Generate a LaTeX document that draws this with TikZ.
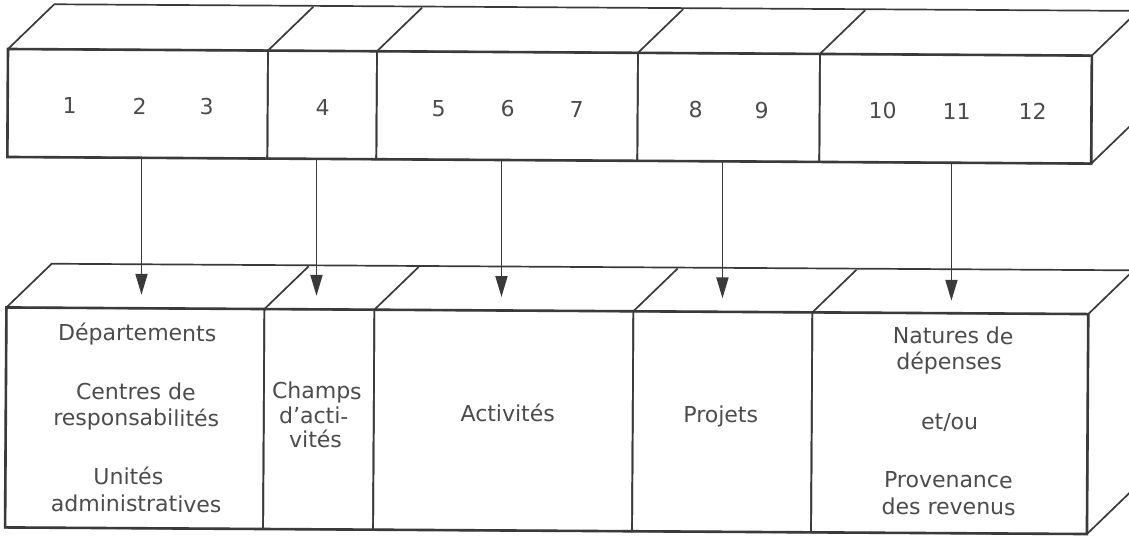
\documentclass[tikz,border=0pt]{standalone}
\usepackage{fontspec}
\setmainfont{DejaVu Sans}
\usetikzlibrary{arrows.meta,calc}
\definecolor{linec}{HTML}{3A3A3A}
\definecolor{txtc}{HTML}{4C4C4C}
\begin{document}
\begin{tikzpicture}[x=1pt,y=-1pt,
  outer/.style={draw=linec,line width=2.6pt,line join=miter},
  thin/.style={draw=linec,line width=1.7pt},
  cell/.style={thin,rectangle,inner sep=0pt,outer sep=0pt,anchor=north west,minimum height=#1},
  lbl/.style={text=txtc,font=\fontsize{22}{26}\selectfont,anchor=base,inner sep=0pt},
  conn/.style={draw=linec,line width=1.9pt,-{Triangle[length=21pt,width=12pt]}}]
\useasboundingbox (0,0) rectangle (1129,537);
\clip (0,0) rectangle (1129,537);
\fill[white] (0,0) rectangle (1129,537);
\begin{scope}[rotate around={-0.35:(8,49)},transform shape]
% ---------- top block ----------
\node[cell=108pt,minimum width=260pt] (t1) at (8,49) {};
\node[cell=108pt,minimum width=109pt] (t2) at (268,49) {};
\node[cell=108pt,minimum width=261pt] (t3) at (377,49) {};
\node[cell=108pt,minimum width=182pt] (t4) at (638,49) {};
\node[cell=108pt,minimum width=272pt] (t5) at (820,49) {};
\draw[thin] (t1.north west) -- ++(46,-45) -- ($(t5.north east)+(46,-45)$) -- ++(0,108) -- (t5.south east);
\draw[thin] (t5.north east) -- ++(46,-45);
\foreach \c in {t2,t3,t4,t5} \draw[thin] (\c.north west) -- ++(45,-44);
\draw[outer] (t1.north west) rectangle (t5.south east);
% numbers
\node[lbl] (n1) at (70,113.6) {1};
\node[lbl] (n2) at (140,113.6) {2};
\node[lbl] (n3) at (207,113.6) {3};
\node[lbl] (n4) at (323,113.6) {4};
\node[lbl] (n5) at (439,113.6) {5};
\node[lbl] (n6) at (508,113.6) {6};
\node[lbl] (n7) at (577,113.6) {7};
\node[lbl] (n8) at (696,113.6) {8};
\node[lbl] (n9) at (762,113.6) {9};
\node[lbl] (n10) at (883,113.6) {10};
\node[lbl] (n11) at (957,113.6) {11};
\node[lbl] (n12) at (1033,113.6) {12};
% ---------- bottom block ----------
\node[cell=220pt,minimum width=258pt] (b1) at (8,307.5) {};
\node[cell=220pt,minimum width=110pt] (b2) at (266,307.5) {};
\node[cell=220pt,minimum width=259pt] (b3) at (376,307.5) {};
\node[cell=220pt,minimum width=179pt] (b4) at (635,307.5) {};
\node[cell=220pt,minimum width=276pt] (b5) at (814,307.5) {};
\draw[thin] (b1.north west) -- ++(45,-44) -- ($(b5.north east)+(45,-44)$) -- ++(0,220) -- (b5.south east);
\draw[thin] (b5.north east) -- ++(45,-44);
\foreach \c in {b2,b3,b4,b5} \draw[thin] (\c.north west) -- ++(44,-43);
\draw[outer] (b1.north west) rectangle (b5.south east);
% labels
\node[lbl] (l1) at (139,340) {Départements};
\node[lbl] (l2) at (138,399) {Centres de};
\node[lbl] (l3) at (138.5,425) {responsabilités};
\node[lbl] (l4) at (131,484) {Unités};
\node[lbl] (l5) at (139,511) {administratives};
\node[lbl] (l6) at (319,397) {Champs};
\node[lbl] (l7) at (316,422) {d’acti-};
\node[lbl] (l8) at (318,446) {vités};
\node[lbl] (l9) at (510,418.6) {Activités};
\node[lbl] (l10) at (723,418.3) {Projets};
\node[lbl] (l11) at (955,338) {Natures de};
\node[lbl] (l12) at (951,364) {dépenses};
\node[lbl] (l13) at (952,424) {et/ou};
\node[lbl] (l14) at (951,482) {Provenance};
\node[lbl] (l15) at (951.5,509) {des revenus};
% arrow end points
\coordinate (e1) at (143,294);
\coordinate (e2) at (318,294);
\coordinate (e3) at (503,294);
\coordinate (e4) at (724,294);
\coordinate (e5) at (953,295);
\end{scope}
\draw[conn] (t1.south -| e1) -- (e1);
\draw[conn] (t2.south -| e2) -- (e2);
\draw[conn] (t3.south -| e3) -- (e3);
\draw[conn] (t4.south -| e4) -- (e4);
\draw[conn] (t5.south -| e5) -- (e5);
\end{tikzpicture}
\end{document}
